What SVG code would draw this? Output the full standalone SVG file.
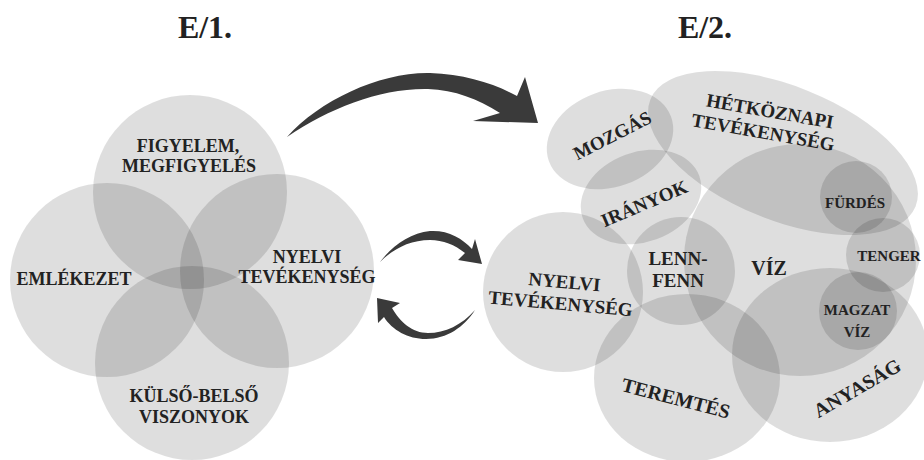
<svg xmlns="http://www.w3.org/2000/svg" width="924" height="460" viewBox="0 0 924 460">
<style>
.b{fill:#000;fill-opacity:0.13}
text{font-family:"Liberation Serif","Times New Roman",serif;font-weight:bold;fill:#222;text-anchor:middle}
.t{font-size:32px}
.m{font-size:18px}
.l{font-size:19px}
.s{font-size:15px}
.x{font-size:20px}
.a{fill:#3a3a3a}
</style>
<rect width="924" height="460" fill="#fff"/>
<text class="t" x="205" y="38">E/1.</text>
<text class="t" x="705" y="38">E/2.</text>
<g id="left">
<g id="figyelem"><circle class="b" cx="190" cy="192" r="97"/><text class="m" x="188" y="152">FIGYELEM,</text><text class="m" x="189" y="172">MEGFIGYELÉS</text></g>
<g id="emlekezet"><circle class="b" cx="107" cy="280" r="97"/><text class="m" x="74" y="285">EMLÉKEZET</text></g>
<g id="nyelvi1"><circle class="b" cx="277" cy="271" r="97"/><text class="m" x="307" y="263">NYELVI</text><text class="m" x="307" y="283">TEVÉKENYSÉG</text></g>
<g id="kulso"><circle class="b" cx="192" cy="363" r="97"/><text class="m" x="194" y="402">KÜLSŐ-BELSŐ</text><text class="m" x="194" y="423">VISZONYOK</text></g>
</g>
<g id="right">
<g id="mozgas"><ellipse class="b" cx="610" cy="139" rx="65" ry="48" transform="rotate(-20 610 139)"/><text class="l" x="612" y="142" transform="rotate(-27 612 135)">MOZGÁS</text></g>
<g id="hetkoznapi"><ellipse class="b" cx="783" cy="153" rx="143" ry="67" transform="rotate(22 783 153)"/><g transform="rotate(10 766 122)"><text class="l" x="768" y="117">HÉTKÖZNAPI</text><text class="l" x="765" y="139">TEVÉKENYSÉG</text></g></g>
<g id="iranyok"><ellipse class="b" cx="641" cy="197" rx="62" ry="45" transform="rotate(-20 641 197)"/><text class="l" x="644" y="210" transform="rotate(-23 644 203)">IRÁNYOK</text></g>
<g id="viz"><circle class="b" cx="800" cy="260" r="116"/><text class="x" x="769" y="275">VÍZ</text></g>
<g id="furdes"><circle class="b" cx="856" cy="197" r="36"/><text class="s" x="855" y="208">FÜRDÉS</text></g>
<g id="tenger"><circle class="b" cx="883" cy="255" r="37"/><text class="s" x="889" y="261">TENGER</text></g>
<g id="anyasag"><ellipse class="b" cx="830" cy="355" rx="98" ry="87"/><text class="x" x="857" y="395" transform="rotate(-30 857 388)">ANYASÁG</text></g>
<g id="magzat"><circle class="b" cx="858" cy="311" r="39"/><text class="s" x="857" y="315">MAGZAT</text><text class="s" x="857" y="337">VÍZ</text></g>
<g id="teremtes"><ellipse class="b" cx="687" cy="378" rx="93" ry="84"/><text class="x" x="676" y="405" transform="rotate(14.5 676 398)">TEREMTÉS</text></g>
<g id="nyelvi2"><circle class="b" cx="563" cy="292" r="80"/><g transform="rotate(5 562 299)"><text class="l" x="563" y="288">NYELVI</text><text class="l" x="561" y="310">TEVÉKENYSÉG</text></g></g>
<g id="lennfenn"><circle class="b" cx="681" cy="271" r="54"/><text class="l" x="678" y="265">LENN-</text><text class="l" x="678" y="287">FENN</text></g>
</g>
<g id="connectors">
<path class="a" d="M287,137 C320,100 380,72 430,73 C465,74 495,84 517,96 L525,77 L538,123 L473,121 L500,113 C478,99 455,90 428,89 C380,88 330,108 287,137 Z"/>
<path class="a" d="M380,262 C392,246 410,233 430,231 C448,230 462,238 472,249 L475,239 L482,264 L458,260 L465,253 C455,245 443,240 430,240 C410,240 393,249 380,262 Z"/>
<path class="a" d="M475,310 C462,325 445,333 428,333 C412,333 400,322 392,308 L400,303 L377,298 L378,323 L384,317 C392,330 408,339 426,339 C447,339 464,327 475,310 Z"/>
</g>
</svg>
